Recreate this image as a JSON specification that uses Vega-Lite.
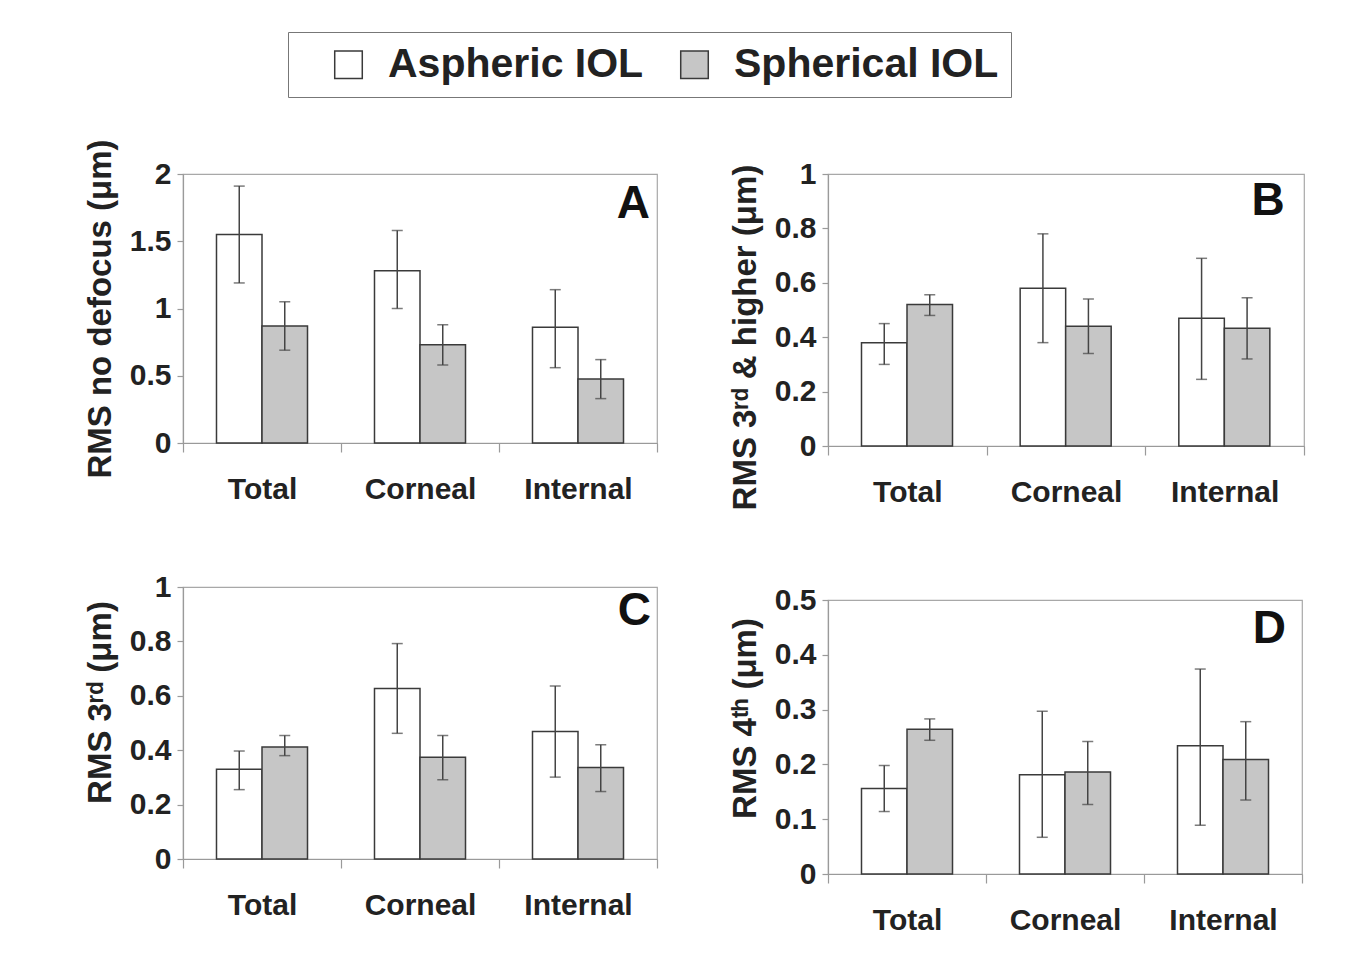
{
  "$schema": "https://vega.github.io/schema/vega-lite/v6.json",
  "padding": {"left": 83, "top": 31, "right": 10, "bottom": 10},
  "background": "white",
  "datasets": {
    "bars": [
      {"panel": "A", "cat": "Total", "lens": "Aspheric IOL", "value": 1.55, "lo": 1.19, "hi": 1.91},
      {"panel": "A", "cat": "Total", "lens": "Spherical IOL", "value": 0.87, "lo": 0.69, "hi": 1.05},
      {"panel": "A", "cat": "Corneal", "lens": "Aspheric IOL", "value": 1.28, "lo": 1.0, "hi": 1.58},
      {"panel": "A", "cat": "Corneal", "lens": "Spherical IOL", "value": 0.73, "lo": 0.58, "hi": 0.88},
      {"panel": "A", "cat": "Internal", "lens": "Aspheric IOL", "value": 0.86, "lo": 0.56, "hi": 1.14},
      {"panel": "A", "cat": "Internal", "lens": "Spherical IOL", "value": 0.475, "lo": 0.33, "hi": 0.62},
      {"panel": "B", "cat": "Total", "lens": "Aspheric IOL", "value": 0.38, "lo": 0.30, "hi": 0.45},
      {"panel": "B", "cat": "Total", "lens": "Spherical IOL", "value": 0.52, "lo": 0.48, "hi": 0.556},
      {"panel": "B", "cat": "Corneal", "lens": "Aspheric IOL", "value": 0.58, "lo": 0.38, "hi": 0.78},
      {"panel": "B", "cat": "Corneal", "lens": "Spherical IOL", "value": 0.44, "lo": 0.34, "hi": 0.54},
      {"panel": "B", "cat": "Internal", "lens": "Aspheric IOL", "value": 0.47, "lo": 0.245, "hi": 0.69},
      {"panel": "B", "cat": "Internal", "lens": "Spherical IOL", "value": 0.433, "lo": 0.32, "hi": 0.545},
      {"panel": "C", "cat": "Total", "lens": "Aspheric IOL", "value": 0.33, "lo": 0.255, "hi": 0.397},
      {"panel": "C", "cat": "Total", "lens": "Spherical IOL", "value": 0.412, "lo": 0.38, "hi": 0.454},
      {"panel": "C", "cat": "Corneal", "lens": "Aspheric IOL", "value": 0.627, "lo": 0.462, "hi": 0.792},
      {"panel": "C", "cat": "Corneal", "lens": "Spherical IOL", "value": 0.374, "lo": 0.291, "hi": 0.454},
      {"panel": "C", "cat": "Internal", "lens": "Aspheric IOL", "value": 0.469, "lo": 0.301, "hi": 0.636},
      {"panel": "C", "cat": "Internal", "lens": "Spherical IOL", "value": 0.336, "lo": 0.248, "hi": 0.42},
      {"panel": "D", "cat": "Total", "lens": "Aspheric IOL", "value": 0.156, "lo": 0.114, "hi": 0.198},
      {"panel": "D", "cat": "Total", "lens": "Spherical IOL", "value": 0.264, "lo": 0.244, "hi": 0.283},
      {"panel": "D", "cat": "Corneal", "lens": "Aspheric IOL", "value": 0.181, "lo": 0.067, "hi": 0.297},
      {"panel": "D", "cat": "Corneal", "lens": "Spherical IOL", "value": 0.186, "lo": 0.127, "hi": 0.242},
      {"panel": "D", "cat": "Internal", "lens": "Aspheric IOL", "value": 0.234, "lo": 0.089, "hi": 0.374},
      {"panel": "D", "cat": "Internal", "lens": "Spherical IOL", "value": 0.209, "lo": 0.135, "hi": 0.278}
    ]
  },
  "config": {
    "font": "Liberation Sans",
    "view": {"stroke": "#a8a8a8", "strokeWidth": 1.2},
    "axis": {
      "labelFont": "Liberation Sans", "labelFontWeight": "bold", "labelColor": "#222",
      "titleFont": "Liberation Sans", "titleFontWeight": "bold", "titleColor": "#222",
      "domainColor": "#9a9a9a", "tickColor": "#9a9a9a", "domainWidth": 1.2, "tickWidth": 1.2,
      "grid": false
    },
    "axisY": {"labelFontSize": 30, "titleFontSize": 33, "tickSize": 6, "labelPadding": 6, "titlePadding": 12, "format": "~g"},
    "axisX": {"labelFontSize": 30, "tickSize": 9, "labelPadding": 22, "tickBand": "extent", "labelAngle": 0, "title": null}
  },
  "resolve": {"scale": {"color": "shared"}},
  "spacing": 69,
  "hconcat": [
    {
      "spacing": 66,
      "vconcat": [
        {
          "width": 474, "height": 269,
          "layer": [
            {
              "data": {"name": "bars"},
              "transform": [{"filter": "datum.panel === 'A'"}],
              "encoding": {
                "x": {"field": "cat", "type": "nominal", "sort": ["Total", "Corneal", "Internal"], "scale": {"paddingInner": 0, "paddingOuter": 0}},
                "xOffset": {"field": "lens", "type": "nominal", "sort": ["Aspheric IOL", "Spherical IOL"], "scale": {"paddingInner": 0, "paddingOuter": 0.736}}
              },
              "layer": [
                {"mark": {"type": "bar", "stroke": "#3a3a3a", "strokeWidth": 1.5},
                 "encoding": {
                   "y": {"field": "value", "type": "quantitative", "title": "RMS no defocus (μm)", "scale": {"domain": [0, 2]}, "axis": {"values": [0, 0.5, 1, 1.5, 2]}},
                   "color": {"field": "lens", "type": "nominal", "scale": {"domain": ["Aspheric IOL", "Spherical IOL"], "range": ["#ffffff", "#c6c6c6"]},
                     "legend": {"orient": "none", "legendX": 105, "legendY": -142, "direction": "horizontal", "title": "\u00a0", "titleOrient": "left", "titleFontSize": 40, "titlePadding": 28, "symbolType": "square", "symbolSize": 760, "symbolStrokeColor": "#555", "symbolStrokeWidth": 1.5, "symbolOpacity": 1, "labelFontSize": 41, "labelFont": "Liberation Sans", "labelFontWeight": "bold", "labelColor": "#222", "strokeColor": "#777", "padding": 12, "columnPadding": 30, "labelOffset": 19, "labelLimit": 400}}
                 }},
                {"mark": {"type": "rule", "color": "#444", "strokeWidth": 1.5},
                 "encoding": {"y": {"field": "lo", "type": "quantitative", "title": "RMS no defocus (μm)"}, "y2": {"field": "hi"}}},
                {"mark": {"type": "tick", "color": "#444", "thickness": 1.5, "size": 11},
                 "encoding": {"y": {"field": "lo", "type": "quantitative", "title": "RMS no defocus (μm)"}}},
                {"mark": {"type": "tick", "color": "#444", "thickness": 1.5, "size": 11},
                 "encoding": {"y": {"field": "hi", "type": "quantitative", "title": "RMS no defocus (μm)"}}}
              ]
            },
            {
              "data": {"values": [{"label": "A"}]},
              "mark": {"type": "text", "fontSize": 46, "fontWeight": "bold", "font": "Liberation Sans", "align": "right", "baseline": "middle", "dx": 72, "color": "#111"},
              "encoding": {"x": {"datum": "Internal", "type": "nominal"}, "y": {"datum": 1.78, "type": "quantitative"}, "text": {"field": "label"}}
            }
          ]
        },
        {
          "width": 474, "height": 272,
          "layer": [
            {
              "data": {"name": "bars"},
              "transform": [{"filter": "datum.panel === 'C'"}],
              "encoding": {
                "x": {"field": "cat", "type": "nominal", "sort": ["Total", "Corneal", "Internal"], "scale": {"paddingInner": 0, "paddingOuter": 0}},
                "xOffset": {"field": "lens", "type": "nominal", "sort": ["Aspheric IOL", "Spherical IOL"], "scale": {"paddingInner": 0, "paddingOuter": 0.736}}
              },
              "layer": [
                {"mark": {"type": "bar", "stroke": "#3a3a3a", "strokeWidth": 1.5},
                 "encoding": {
                   "y": {"field": "value", "type": "quantitative", "title": "RMS 3ʳᵈ (μm)", "scale": {"domain": [0, 1]}, "axis": {"values": [0, 0.2, 0.4, 0.6, 0.8, 1], "titleY": 115}},
                   "color": {"field": "lens", "type": "nominal"}
                 }},
                {"mark": {"type": "rule", "color": "#444", "strokeWidth": 1.5},
                 "encoding": {"y": {"field": "lo", "type": "quantitative", "title": "RMS 3ʳᵈ (μm)"}, "y2": {"field": "hi"}}},
                {"mark": {"type": "tick", "color": "#444", "thickness": 1.5, "size": 11},
                 "encoding": {"y": {"field": "lo", "type": "quantitative", "title": "RMS 3ʳᵈ (μm)"}}},
                {"mark": {"type": "tick", "color": "#444", "thickness": 1.5, "size": 11},
                 "encoding": {"y": {"field": "hi", "type": "quantitative", "title": "RMS 3ʳᵈ (μm)"}}}
              ]
            },
            {
              "data": {"values": [{"label": "C"}]},
              "mark": {"type": "text", "fontSize": 46, "fontWeight": "bold", "font": "Liberation Sans", "align": "right", "baseline": "middle", "dx": 73, "color": "#111"},
              "encoding": {"x": {"datum": "Internal", "type": "nominal"}, "y": {"datum": 0.91, "type": "quantitative"}, "text": {"field": "label"}}
            }
          ]
        }
      ]
    },
    {
      "spacing": 73,
      "vconcat": [
        {
          "width": 476, "height": 272,
          "layer": [
            {
              "data": {"name": "bars"},
              "transform": [{"filter": "datum.panel === 'B'"}],
              "encoding": {
                "x": {"field": "cat", "type": "nominal", "sort": ["Total", "Corneal", "Internal"], "scale": {"paddingInner": 0, "paddingOuter": 0}},
                "xOffset": {"field": "lens", "type": "nominal", "sort": ["Aspheric IOL", "Spherical IOL"], "scale": {"paddingInner": 0, "paddingOuter": 0.736}}
              },
              "layer": [
                {"mark": {"type": "bar", "stroke": "#3a3a3a", "strokeWidth": 1.5},
                 "encoding": {
                   "y": {"field": "value", "type": "quantitative", "title": "RMS 3ʳᵈ & higher (μm)", "scale": {"domain": [0, 1]}, "axis": {"values": [0, 0.2, 0.4, 0.6, 0.8, 1], "titleY": 163}},
                   "color": {"field": "lens", "type": "nominal"}
                 }},
                {"mark": {"type": "rule", "color": "#444", "strokeWidth": 1.5},
                 "encoding": {"y": {"field": "lo", "type": "quantitative", "title": "RMS 3ʳᵈ & higher (μm)"}, "y2": {"field": "hi"}}},
                {"mark": {"type": "tick", "color": "#444", "thickness": 1.5, "size": 11},
                 "encoding": {"y": {"field": "lo", "type": "quantitative", "title": "RMS 3ʳᵈ & higher (μm)"}}},
                {"mark": {"type": "tick", "color": "#444", "thickness": 1.5, "size": 11},
                 "encoding": {"y": {"field": "hi", "type": "quantitative", "title": "RMS 3ʳᵈ & higher (μm)"}}}
              ]
            },
            {
              "data": {"values": [{"label": "B"}]},
              "mark": {"type": "text", "fontSize": 46, "fontWeight": "bold", "font": "Liberation Sans", "align": "right", "baseline": "middle", "dx": 60, "color": "#111"},
              "encoding": {"x": {"datum": "Internal", "type": "nominal"}, "y": {"datum": 0.9, "type": "quantitative"}, "text": {"field": "label"}}
            }
          ]
        },
        {
          "width": 474, "height": 274,
          "layer": [
            {
              "data": {"name": "bars"},
              "transform": [{"filter": "datum.panel === 'D'"}],
              "encoding": {
                "x": {"field": "cat", "type": "nominal", "sort": ["Total", "Corneal", "Internal"], "scale": {"paddingInner": 0, "paddingOuter": 0}},
                "xOffset": {"field": "lens", "type": "nominal", "sort": ["Aspheric IOL", "Spherical IOL"], "scale": {"paddingInner": 0, "paddingOuter": 0.736}}
              },
              "layer": [
                {"mark": {"type": "bar", "stroke": "#3a3a3a", "strokeWidth": 1.5},
                 "encoding": {
                   "y": {"field": "value", "type": "quantitative", "title": "RMS 4ᵗʰ (μm)", "scale": {"domain": [0, 0.5]}, "axis": {"values": [0, 0.1, 0.2, 0.3, 0.4, 0.5], "titleY": 118}},
                   "color": {"field": "lens", "type": "nominal"}
                 }},
                {"mark": {"type": "rule", "color": "#444", "strokeWidth": 1.5},
                 "encoding": {"y": {"field": "lo", "type": "quantitative", "title": "RMS 4ᵗʰ (μm)"}, "y2": {"field": "hi"}}},
                {"mark": {"type": "tick", "color": "#444", "thickness": 1.5, "size": 11},
                 "encoding": {"y": {"field": "lo", "type": "quantitative", "title": "RMS 4ᵗʰ (μm)"}}},
                {"mark": {"type": "tick", "color": "#444", "thickness": 1.5, "size": 11},
                 "encoding": {"y": {"field": "hi", "type": "quantitative", "title": "RMS 4ᵗʰ (μm)"}}}
              ]
            },
            {
              "data": {"values": [{"label": "D"}]},
              "mark": {"type": "text", "fontSize": 46, "fontWeight": "bold", "font": "Liberation Sans", "align": "right", "baseline": "middle", "dx": 63, "color": "#111"},
              "encoding": {"x": {"datum": "Internal", "type": "nominal"}, "y": {"datum": 0.447, "type": "quantitative"}, "text": {"field": "label"}}
            }
          ]
        }
      ]
    }
  ]
}
